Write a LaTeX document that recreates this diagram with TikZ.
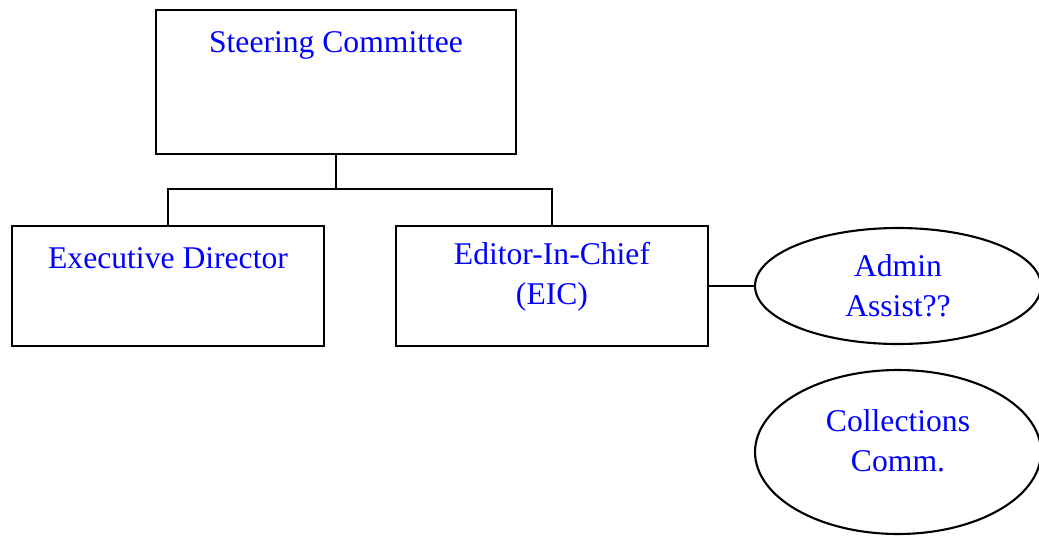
\documentclass[tikz,border=0pt]{standalone}
\usepackage{fontspec}
\setmainfont{Liberation Serif}
\usetikzlibrary{shapes.geometric}
\tikzset{
  every picture/.append style={line width=1.2pt},
  every node/.append style={font=\fontsize{18}{22.7}\selectfont},
}
\tikzset{
  orgbox/.style={draw, rectangle, minimum width=6.24cm, minimum height=2.4cm, inner sep=0pt},
  orgtext/.style={text=blue, align=center, inner sep=0pt, anchor=north},
  bubble/.style={draw, ellipse, minimum width=5.72cm, inner sep=0pt, text=blue, align=center}
}

\begin{document}
\begin{tikzpicture}[x=0.02cm, y=-0.02cm]
\useasboundingbox (0,0) rectangle (1039,535);

% Boxes
\node[orgbox, minimum width=7.2cm, minimum height=2.88cm,
      label={[orgtext, yshift=-0.44cm]north:Steering Committee}] (steer) at (336,82) {};
\node[orgbox, label={[orgtext, yshift=-0.44cm]north:Executive Director}] (exec) at (168,286) {};
\node[orgbox, label={[orgtext, yshift=-0.33cm]north:Editor-In-Chief\\(EIC)}] (eic) at (552,286) {};

% Ellipses
\node[bubble, minimum height=2.32cm] (admin) at (898,286) {Admin\\Assist??};
\node[bubble, minimum height=3.28cm, text depth=0.45cm] (coll) at (898,452) {Collections\\Comm.};

% Connectors
\coordinate (bus) at (336,189);
\draw (steer.south) -- (bus);
\draw (exec.north) |- (bus) -| (eic.north);
\draw (eic.east) -- (admin.west);
\end{tikzpicture}
\end{document}
